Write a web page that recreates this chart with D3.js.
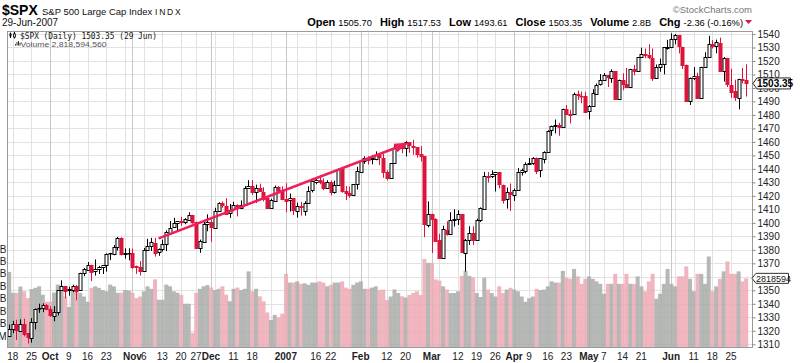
<!DOCTYPE html>
<html>
<head>
<meta charset="utf-8">
<script src="https://cdn.jsdelivr.net/npm/d3@7"></script>
<style>
body { margin: 0; background: #fff; }
svg { display: block; font-family: "Liberation Sans", Arial, sans-serif; }
</style>
</head>
<body>
<script>
// trading days shown on the chart, by month
const tradingDays = {
  "2006-09": [15,18,19,20,21,22,25,26,27,28,29],
  "2006-10": [2,3,4,5,6,9,10,11,12,13,16,17,18,19,20,23,24,25,26,27,30,31],
  "2006-11": [1,2,3,6,7,8,9,10,13,14,15,16,17,20,21,22,24,27,28,29,30],
  "2006-12": [1,4,5,6,7,8,11,12,13,14,15,18,19,20,21,22,26,27,28,29],
  "2007-01": [3,4,5,8,9,10,11,12,16,17,18,19,22,23,24,25,26,29,30,31],
  "2007-02": [1,2,5,6,7,8,9,12,13,14,15,16,20,21,22,23,26,27,28],
  "2007-03": [1,2,5,6,7,8,9,12,13,14,15,16,19,20,21,22,23,26,27,28,29,30],
  "2007-04": [2,3,4,5,9,10,11,12,13,16,17,18,19,20,23,24,25,26,27,30],
  "2007-05": [1,2,3,4,7,8,9,10,11,14,15,16,17,18,21,22,23,24,25,29,30,31],
  "2007-06": [1,4,5,6,7,8,11,12,13,14,15,18,19,20,21,22,25,26,27,28,29]
};

const opens = [
  1316.28,1321.18,1324.89,1320.20,1325.18,1318.03,1314.78,1326.37,1336.35,1336.59,1338.88,
  1335.85,1331.32,1334.11,1350.20,1353.22,1349.59,1350.66,1353.42,1349.95,1362.83,1365.62,1369.06,1364.05,1365.80,1366.96,1368.60,1377.02,1377.38,1382.22,1389.08,1377.34,1377.93,
  1377.94,1367.81,1367.34,1364.27,1379.75,1382.50,1385.43,1378.33,1380.58,1384.36,1392.91,1396.53,1399.76,1401.17,1400.43,1402.69,1405.94,1400.95,1381.61,1386.11,1399.47,
  1400.63,1396.67,1409.10,1414.40,1412.86,1407.27,1409.81,1413.00,1411.32,1413.16,1425.48,1427.08,1422.42,1425.51,1423.20,1418.10,1410.75,1416.63,1426.77,1424.71,
  1418.03,1416.60,1418.34,1409.26,1412.84,1408.70,1414.84,1423.82,1430.73,1431.77,1430.59,1426.35,1430.47,1422.95,1427.96,1440.12,1423.90,1422.03,1420.61,1428.65,
  1437.90,1445.94,1448.33,1446.98,1447.41,1449.99,1448.25,1438.00,1433.22,1443.91,1455.15,1456.77,1455.53,1459.60,1457.29,1456.22,1451.04,1449.25,1398.64,
  1406.80,1403.16,1387.11,1374.06,1395.02,1391.88,1401.89,1402.80,1406.23,1377.86,1387.11,1392.28,1386.95,1402.04,1410.92,1435.04,1434.54,1436.11,1437.49,1428.35,1417.17,1422.52,
  1420.83,1424.27,1437.75,1438.94,1443.77,1444.58,1448.23,1438.87,1447.80,1452.84,1468.47,1471.47,1472.48,1470.69,1484.33,1480.93,1480.28,1495.27,1494.21,1494.07,
  1482.37,1486.13,1495.56,1502.35,1505.57,1509.36,1507.32,1512.33,1491.47,1505.76,1503.11,1500.75,1514.01,1512.74,1522.75,1525.10,1524.09,1522.10,1507.50,1515.55,1517.60,1530.19,
  1530.62,1536.28,1539.12,1530.57,1517.36,1490.71,1507.64,1509.12,1492.65,1515.58,1522.97,1532.90,1531.02,1533.68,1512.50,1522.19,1502.56,1497.68,1492.62,1506.32,1505.70
];

const highs = [
  1324.70,1327.40,1328.20,1328.50,1329.00,1318.03,1329.40,1336.60,1340.10,1340.30,1339.90,
  1338.30,1338.30,1350.20,1357.40,1353.22,1352.70,1354.20,1354.00,1363.00,1366.60,1371.00,1369.06,1372.90,1368.10,1368.70,1377.40,1377.80,1383.60,1389.50,1389.40,1381.20,1381.20,
  1381.00,1368.40,1371.70,1381.40,1388.20,1388.90,1388.90,1381.00,1387.60,1394.50,1401.40,1403.80,1401.20,1404.40,1403.50,1407.90,1405.94,1400.95,1387.60,1401.10,1406.30,
  1402.50,1411.20,1415.30,1415.90,1418.30,1414.10,1415.60,1413.80,1416.60,1427.20,1431.60,1431.80,1428.30,1429.10,1426.40,1418.80,1417.90,1427.70,1427.30,1427.00,
  1429.40,1421.80,1418.34,1414.98,1415.60,1415.99,1427.10,1431.20,1433.90,1435.30,1432.96,1431.60,1431.40,1431.30,1440.13,1440.70,1427.30,1426.90,1428.82,1441.60,
  1446.60,1449.30,1449.40,1450.20,1452.99,1450.40,1452.45,1439.10,1444.40,1457.60,1457.97,1456.80,1460.50,1459.60,1461.57,1456.22,1456.95,1449.25,1415.90,
  1406.80,1403.40,1391.90,1397.90,1401.20,1407.90,1410.10,1409.30,1406.23,1388.10,1397.50,1397.50,1403.20,1411.50,1437.80,1437.70,1438.90,1437.70,1437.49,1428.35,1426.20,1429.20,
  1425.50,1440.60,1440.20,1444.90,1448.10,1448.70,1448.50,1448.00,1453.10,1468.60,1472.10,1476.60,1474.20,1484.70,1487.30,1483.80,1496.60,1498.00,1497.30,1497.20,
  1487.30,1499.10,1503.30,1510.30,1511.00,1509.40,1513.80,1512.33,1506.20,1510.90,1514.80,1514.20,1517.10,1522.75,1529.90,1529.20,1532.40,1529.30,1517.40,1521.80,1530.23,1535.60,
  1540.50,1540.00,1539.12,1530.57,1517.36,1507.80,1515.50,1511.30,1515.70,1526.45,1538.70,1535.40,1535.85,1537.30,1522.90,1522.19,1514.30,1506.10,1506.80,1514.84,1517.53
];

const lows = [
  1316.28,1318.20,1313.20,1320.20,1315.90,1310.60,1311.20,1321.00,1333.30,1333.80,1335.60,
  1330.40,1327.10,1331.40,1350.20,1344.20,1346.10,1348.60,1342.60,1349.95,1360.50,1365.60,1356.90,1360.90,1362.10,1362.10,1363.90,1372.40,1376.00,1379.50,1375.90,1373.50,1372.20,
  1366.00,1362.20,1360.98,1364.27,1379.75,1379.20,1375.00,1375.60,1378.80,1379.10,1392.10,1396.50,1394.60,1397.90,1399.00,1402.30,1399.30,1381.40,1377.80,1386.11,1393.80,
  1385.90,1396.67,1408.80,1411.10,1406.80,1403.70,1408.60,1404.80,1411.30,1413.16,1425.48,1420.70,1414.90,1423.50,1415.90,1410.30,1410.40,1416.63,1422.30,1416.80,
  1407.90,1408.40,1405.80,1403.97,1405.40,1405.30,1414.84,1422.60,1428.60,1428.60,1424.20,1425.20,1420.40,1421.70,1427.96,1422.30,1416.96,1418.50,1420.61,1424.80,
  1437.90,1443.80,1443.20,1443.40,1446.40,1442.80,1433.40,1431.40,1433.22,1443.91,1453.20,1451.60,1449.20,1452.00,1450.50,1448.40,1445.50,1389.40,1396.65,
  1377.70,1386.90,1373.30,1374.06,1390.60,1391.88,1397.30,1398.40,1377.70,1363.98,1383.60,1383.60,1386.95,1400.70,1409.80,1429.90,1433.20,1423.30,1425.50,1414.30,1410.60,1408.90,
  1416.30,1424.27,1435.10,1436.70,1443.30,1443.00,1436.20,1433.90,1444.10,1452.84,1464.50,1466.40,1464.50,1470.69,1480.20,1473.70,1480.28,1491.10,1488.70,1482.30,
  1476.70,1486.13,1495.56,1501.80,1505.50,1500.70,1503.80,1491.40,1491.47,1498.30,1500.40,1500.50,1509.30,1512.70,1522.70,1522.10,1521.30,1505.20,1507.50,1512.00,1510.10,1528.40,
  1530.60,1532.40,1525.60,1514.10,1490.40,1487.40,1505.80,1492.97,1492.65,1515.58,1522.97,1529.30,1525.70,1512.40,1504.75,1500.70,1492.70,1490.50,1484.18,1503.40,1493.61
];

const closes = [
  1321.18,1324.89,1320.20,1325.18,1318.03,1314.78,1326.37,1336.35,1336.59,1338.88,1335.85,
  1331.32,1334.11,1350.20,1353.22,1349.59,1350.66,1353.42,1349.95,1362.83,1365.62,1369.06,1364.05,1365.80,1366.96,1368.60,1377.02,1377.38,1382.22,1389.08,1377.34,1377.93,1377.94,
  1367.81,1367.34,1364.30,1379.78,1382.84,1385.72,1378.33,1380.90,1384.42,1393.22,1396.57,1399.76,1401.20,1400.50,1402.81,1406.09,1400.95,1381.96,1386.72,1399.48,1400.63,
  1396.71,1409.12,1414.76,1412.90,1407.29,1409.84,1413.04,1411.56,1413.21,1425.49,1427.09,1422.48,1425.55,1423.53,1418.30,1410.76,1416.90,1426.84,1424.73,1418.30,
  1416.60,1418.34,1409.71,1412.84,1412.11,1414.85,1423.82,1430.73,1431.90,1430.62,1426.37,1430.50,1422.95,1427.99,1440.13,1423.90,1422.18,1420.62,1428.82,1438.24,
  1445.94,1448.39,1446.99,1448.00,1450.02,1448.31,1438.06,1433.37,1444.26,1455.30,1456.81,1455.54,1459.68,1457.63,1456.38,1451.19,1449.37,1399.04,1406.82,
  1403.17,1387.17,1374.12,1395.41,1391.97,1401.89,1402.84,1406.60,1377.95,1387.17,1392.28,1386.95,1402.06,1410.94,1435.04,1434.54,1436.11,1437.50,1428.61,1417.23,1422.53,1420.86,
  1424.55,1437.77,1439.37,1443.76,1444.61,1448.39,1438.87,1447.80,1452.85,1468.33,1471.48,1472.50,1470.73,1484.35,1480.93,1480.41,1495.42,1494.25,1494.07,1482.37,
  1486.30,1495.92,1502.39,1505.62,1509.48,1507.72,1512.58,1491.47,1505.85,1503.15,1501.19,1514.14,1512.75,1522.75,1525.10,1524.12,1522.28,1507.51,1515.73,1518.11,1530.23,1530.62,
  1536.34,1539.18,1530.95,1517.38,1490.72,1507.67,1509.12,1493.00,1515.67,1522.97,1532.91,1531.05,1533.70,1512.84,1522.19,1502.56,1497.74,1492.89,1506.34,1505.71,1503.35
];

// volume, billions of shares
const volumes = [
  3.08,2.24,2.24,2.49,2.30,2.03,2.39,2.44,2.50,2.16,1.88,
  1.88,2.25,2.57,2.50,2.09,1.67,2.39,2.35,2.24,2.09,1.88,2.44,2.50,2.44,2.35,2.30,2.57,2.50,2.24,2.24,2.35,2.33,
  2.24,2.03,2.09,2.30,2.50,2.40,2.78,1.96,1.96,2.57,2.50,2.30,2.24,2.16,1.80,1.80,0.63,2.24,2.40,2.50,2.55,
  2.45,2.35,2.40,2.50,2.16,1.90,2.40,2.45,2.35,2.40,3.10,2.30,2.40,2.10,1.90,1.45,1.15,1.35,1.25,1.40,
  3.00,2.65,2.65,2.70,2.60,2.62,2.56,2.65,2.65,2.70,2.65,2.50,2.56,2.65,2.65,2.70,2.45,2.40,2.56,2.65,
  2.70,2.40,2.40,2.45,2.50,2.35,2.37,1.95,2.09,2.37,2.23,2.10,2.05,2.15,2.23,2.30,2.15,3.60,3.44,
  3.44,2.78,2.73,2.50,2.37,2.23,2.23,2.30,2.92,3.12,2.92,2.85,2.23,2.07,2.85,2.37,2.23,2.09,2.50,2.23,2.37,2.44,
  2.37,2.30,2.09,1.88,2.02,2.09,2.40,2.35,2.37,2.50,2.70,2.65,2.65,3.12,2.85,2.80,3.20,2.90,2.60,2.80,
  2.90,2.80,2.70,2.60,2.20,2.60,2.60,3.00,2.60,2.60,3.00,2.60,2.60,2.90,2.50,2.30,2.70,3.00,2.00,2.20,2.60,3.20,
  2.60,2.50,2.90,2.90,3.30,2.80,2.30,3.00,3.00,2.60,3.70,2.30,2.50,2.80,3.10,3.50,3.00,3.00,3.10,2.70,2.82
];

const priceTicks = [1310,1320,1330,1340,1350,1360,1370,1380,1390,1400,1410,1420,1430,1440,1450,1460,1470,1480,1490,1500,1510,1520,1530,1540];
const volumeTicks = [0.5,1.0,1.5,2.0,2.5,3.0,3.5,4.0];
const volumeTickLabels = ["500M","1.0B","1.5B","2.0B","2.5B","3.0B","3.5B","4.0B"];

const dateLabels = [
  ["2006-09-18","18",false],["2006-09-25","25",false],["2006-10-02","Oct",true],["2006-10-09","9",false],
  ["2006-10-16","16",false],["2006-10-23","23",false],["2006-11-01","Nov",true],["2006-11-06","6",false],
  ["2006-11-13","13",false],["2006-11-20","20",false],["2006-11-27","27",false],["2006-12-01","Dec",true],
  ["2006-12-11","11",false],["2006-12-18","18",false],["2007-01-03","2007",true],["2007-01-16","16",false],
  ["2007-01-22","22",false],["2007-02-01","Feb",true],["2007-02-12","12",false],["2007-02-20","20",false],
  ["2007-03-01","Mar",true],["2007-03-12","12",false],["2007-03-19","19",false],["2007-03-26","26",false],
  ["2007-04-02","Apr",true],["2007-04-09","9",false],["2007-04-16","16",false],["2007-04-23","23",false],
  ["2007-05-01","May",true],["2007-05-07","7",false],["2007-05-14","14",false],["2007-05-21","21",false],
  ["2007-06-01","Jun",true],["2007-06-11","11",false],["2007-06-18","18",false],["2007-06-25","25",false]
];

// hand-drawn trendline: [date, price]
const trendLine = [["2006-11-10", 1388.5], ["2007-02-21", 1459.5]];

const headerStats = [["Open","1505.70"],["High","1517.53"],["Low","1493.61"],["Close","1503.35"],["Volume","2.8B"],["Chg","-2.36 (-0.16%)"]];

// ---------------------------------------------------------------
const dates = Object.entries(tradingDays).flatMap(([m, days]) => days.map(d => m + "-" + String(d).padStart(2, "0")));
const parse = d3.timeParse("%Y-%m-%d");
const bars = dates.map((d, i) => ({
  i, date: d, dt: parse(d),
  o: opens[i], h: highs[i], l: lows[i], c: closes[i], v: volumes[i],
  up: i === 0 ? closes[i] >= opens[i] : closes[i] >= closes[i - 1]
}));
const idx = d => dates.indexOf(d);

const W = 800, H = 363;
const plot = {left: 7, right: 752, top: 31, bottom: 347};
const RED = "#dc143c";

const svg = d3.select("body").append("svg").attr("width", W).attr("height", H);

const x = d3.scaleLinear().domain([0, dates.length - 1]).range([9, 746]);
const y = d3.scaleLinear().domain([1310, 1540]).range([344.3, 34]);
const yv = d3.scaleLinear().domain([0, 4]).range([348.5, 249]);
const step = x(1) - x(0);

svg.append("clipPath").attr("id", "clip")
  .append("rect").attr("x", plot.left).attr("y", plot.top)
  .attr("width", plot.right - plot.left).attr("height", plot.bottom - plot.top);

const g = svg.append("g").attr("clip-path", "url(#clip)");

// horizontal grid
g.selectAll(".hgrid").data(priceTicks).join("line")
  .attr("x1", plot.left).attr("x2", plot.right)
  .attr("y1", d => Math.round(y(d)) + 0.5).attr("y2", d => Math.round(y(d)) + 0.5)
  .attr("stroke", "#e2e2e2");

// vertical grid: week starts and month starts
const vlines = bars.filter((b, i) => i > 0 && (b.dt.getDay() < bars[i - 1].dt.getDay() || (b.dt - bars[i - 1].dt) > 4 * 864e5 || b.dt.getMonth() !== bars[i - 1].dt.getMonth()))
  .map(b => ({i: b.i, month: b.dt.getMonth() !== bars[b.i - 1].dt.getMonth()}));
g.selectAll(".vgrid").data(vlines).join("line")
  .attr("x1", d => Math.round(x(d.i)) + 0.5).attr("x2", d => Math.round(x(d.i)) + 0.5)
  .attr("y1", plot.top).attr("y2", plot.bottom)
  .attr("stroke", d => d.month ? "#c8c8c8" : "#e2e2e2");

// volume bars
g.selectAll(".vol").data(bars).join("rect")
  .attr("x", d => x(d.i) - step / 2)
  .attr("width", step + 0.3)
  .attr("y", d => yv(d.v))
  .attr("height", d => plot.bottom - yv(d.v))
  .attr("fill", d => d.up ? "#a9aca9" : "#eda9b4")
  .attr("opacity", 0.85);

// candles
const candles = g.selectAll(".candle").data(bars).join("g");
candles.append("line")
  .attr("x1", d => Math.round(x(d.i)) + 0.5).attr("x2", d => Math.round(x(d.i)) + 0.5)
  .attr("y1", d => y(d.h)).attr("y2", d => y(d.l))
  .attr("stroke", d => d.up ? "#000" : RED);
candles.append("rect")
  .attr("x", d => Math.round(x(d.i)) - 1)
  .attr("width", 3)
  .attr("y", d => Math.round(y(Math.max(d.o, d.c))) + 0.5)
  .attr("height", d => Math.max(0.5, Math.round(Math.abs(y(d.o) - y(d.c)))))
  .attr("fill", d => d.c >= d.o ? "#fff" : (d.up ? "#000" : RED))
  .attr("stroke", d => d.up ? "#000" : RED)
  .attr("stroke-width", 1);

// trendline with arrowhead
const t0 = [x(idx(trendLine[0][0])), y(trendLine[0][1])];
const t1 = [x(idx(trendLine[1][0])), y(trendLine[1][1])];
const ang = Math.atan2(t1[1] - t0[1], t1[0] - t0[0]);
const headLen = 15, headW = 4.5;
const base = [t1[0] - headLen * Math.cos(ang), t1[1] - headLen * Math.sin(ang)];
svg.append("line")
  .attr("x1", t0[0]).attr("y1", t0[1]).attr("x2", base[0]).attr("y2", base[1])
  .attr("stroke", "#ee1f5a").attr("stroke-width", 2.5);
svg.append("path")
  .attr("d", d3.line()([
    t1,
    [base[0] + headW * Math.sin(ang), base[1] - headW * Math.cos(ang)],
    [base[0] - headW * Math.sin(ang), base[1] + headW * Math.cos(ang)]
  ]) + "Z")
  .attr("fill", "#ee1f5a");

// frame
svg.append("rect")
  .attr("x", plot.left + 0.5).attr("y", plot.top + 0.5)
  .attr("width", plot.right - plot.left).attr("height", plot.bottom - plot.top)
  .attr("fill", "none").attr("stroke", "#9a9a9a");

// right price axis
const ax = svg.append("g")
  .attr("transform", `translate(${plot.right + 0.5},0)`)
  .call(d3.axisRight(y).tickValues(priceTicks).tickSize(3).tickSizeOuter(0).tickPadding(2).tickFormat(d3.format("d")));
ax.select(".domain").remove();
ax.selectAll("line").attr("stroke", "#888");
ax.selectAll("text").attr("font-size", 10).attr("fill", "#222").attr("font-family", "Liberation Sans, Arial, sans-serif");

// left volume labels (mostly cut off at the page edge, as in the original)
svg.selectAll(".vlab").data(volumeTicks).join("text")
  .attr("x", 6.5).attr("y", d => yv(d) + 3.5)
  .attr("text-anchor", "end").attr("font-size", 10).attr("fill", "#222")
  .text((d, i) => volumeTickLabels[i]);

// bottom date labels
svg.selectAll(".dlab").data(dateLabels).join("text")
  .attr("x", d => x(idx(d[0])))
  .attr("y", 360)
  .attr("text-anchor", "middle")
  .attr("font-size", 10)
  .attr("font-weight", d => d[2] ? "bold" : "normal")
  .attr("fill", "#222")
  .text(d => d[1]);

// last price tag
const last = bars[bars.length - 1];
const yc = y(last.c);
svg.append("path")
  .attr("d", `M${plot.right + 1},${yc} L${plot.right + 5},${yc - 5.5} H790.5 V${yc + 5.5} H${plot.right + 5} Z`)
  .attr("fill", "#fff").attr("stroke", "#222");
svg.append("text").attr("x", 757).attr("y", yc + 3.6)
  .attr("font-size", 10).attr("font-weight", "bold").attr("fill", "#000")
  .text(d3.format(".2f")(last.c));

// last volume tag
const yvc = yv(last.v);
svg.append("path")
  .attr("d", `M${plot.right},${yvc} L${plot.right + 4},${yvc - 5} H788.5 V${yvc + 5} H${plot.right + 4} Z`)
  .attr("fill", "#fff").attr("stroke", "#333");
svg.append("text").attr("x", 756).attr("y", yvc + 3.4)
  .attr("font-size", 9).attr("fill", "#111")
  .text("2818594");

// header
svg.append("text").attr("x", 2).attr("y", 15)
  .attr("font-size", 14).attr("font-weight", "bold").attr("fill", "#000").text("$SPX");
svg.append("text").attr("x", 42).attr("y", 15)
  .attr("font-size", 9.5).attr("fill", "#111").text("S&P 500 Large Cap Index");
svg.append("text").attr("x", 155).attr("y", 15)
  .attr("font-size", 8.5).attr("letter-spacing", 1.8).attr("fill", "#111").text("INDX");
svg.append("text").attr("x", 2).attr("y", 25.5)
  .attr("font-size", 10).attr("fill", "#111").text("29-Jun-2007");
svg.append("text").attr("x", 752).attr("y", 12.5).attr("text-anchor", "end")
  .attr("font-size", 9.5).attr("fill", "#777").text("\u00a9StockCharts.com");

const stats = svg.append("text").attr("x", 743).attr("y", 25.5).attr("text-anchor", "end").attr("fill", "#000");
headerStats.forEach(([k, v], i) => {
  stats.append("tspan").attr("dx", i === 0 ? 0 : 8).attr("font-size", 11).attr("font-weight", "bold").text(k);
  stats.append("tspan").attr("dx", 3).attr("font-size", 9.3).text(v);
});
svg.append("path").attr("d", "M745,20 H752 L748.5,24 Z").attr("fill", RED);

// legend inside plot
const icon = svg.append("g").attr("transform", "translate(9,32)");
icon.append("line").attr("x1", 1.5).attr("x2", 1.5).attr("y1", 0.5).attr("y2", 6).attr("stroke", "#000");
icon.append("rect").attr("x", 0.5).attr("y", 1.5).attr("width", 2).attr("height", 3).attr("fill", "#000");
icon.append("line").attr("x1", 5.5).attr("x2", 5.5).attr("y1", 0).attr("y2", 6.5).attr("stroke", "#000");
icon.append("rect").attr("x", 4.5).attr("y", 2).attr("width", 2).attr("height", 3).attr("fill", "#fff").attr("stroke", "#000").attr("stroke-width", 0.8);
svg.append("text").attr("x", 20).attr("y", 38.5)
  .attr("font-family", "DejaVu Sans Mono, Liberation Mono, monospace")
  .attr("font-size", 8).attr("fill", "#111")
  .attr("textLength", 137).attr("lengthAdjust", "spacingAndGlyphs")
  .text("$SPX (Daily) 1503.35 (29 Jun)");

const vicon = svg.append("g").attr("transform", "translate(15,41)");
[[0, 3], [1.5, 1], [3, 0], [4.5, 2]].forEach(([dx, dy]) =>
  vicon.append("rect").attr("x", dx).attr("y", dy).attr("width", 1).attr("height", 4.5 - dy).attr("fill", "#333"));
svg.append("text").attr("x", 20.5).attr("y", 46.5)
  .attr("font-size", 7.5).attr("fill", "#555")
  .attr("textLength", 86).attr("lengthAdjust", "spacingAndGlyphs")
  .text("Volume 2,818,594,560");
</script>
</body>
</html>
